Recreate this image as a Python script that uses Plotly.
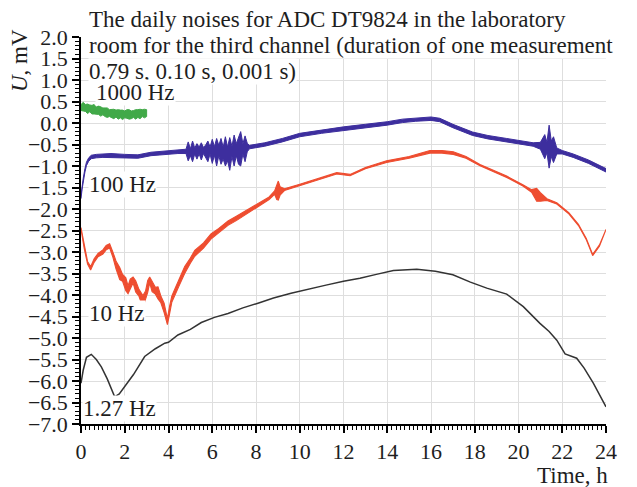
import plotly.graph_objects as go

# ---------------- data ----------------
hours_ticks = [0, 2, 4, 6, 8, 10, 12, 14, 16, 18, 20, 22, 24]

# 1000 Hz (green): time, centre value, half-width of noise band (mV)
green_x = [0, 0.1, 0.2, 0.3, 0.4, 0.5, 0.6, 0.7, 0.8, 0.9,
           1.0, 1.1, 1.2, 1.3, 1.4, 1.5, 1.6, 1.7, 1.8, 1.9,
           2.0, 2.1, 2.2, 2.3, 2.4, 2.5, 2.6, 2.7, 2.8, 2.9, 3.0]
green_c = [0.36, 0.38, 0.35, 0.33, 0.34, 0.31, 0.32, 0.29, 0.30, 0.27,
           0.27, 0.25, 0.24, 0.23, 0.22, 0.21, 0.22, 0.20, 0.21, 0.19,
           0.20, 0.21, 0.20, 0.19, 0.21, 0.20, 0.22, 0.21, 0.23, 0.22, 0.23]
green_a = [0.07, 0.10, 0.08, 0.11, 0.08, 0.10, 0.11, 0.08, 0.10, 0.11,
           0.08, 0.10, 0.11, 0.08, 0.10, 0.11, 0.08, 0.11, 0.09, 0.11,
           0.08, 0.10, 0.11, 0.09, 0.08, 0.11, 0.09, 0.11, 0.08, 0.10, 0.08]

# 100 Hz (blue)
blue_x = [0, 0.05, 0.1, 0.18, 0.25, 0.35, 0.47, 0.7, 1.0, 1.37,
          2.0, 2.6, 3.2, 3.8, 4.43, 4.8, 4.9, 5.0, 5.1, 5.2,
          5.3, 5.4, 5.5, 5.6, 5.7, 5.8, 5.9, 6.0, 6.1, 6.2,
          6.3, 6.4, 6.5, 6.6, 6.7, 6.8, 6.9, 7.0, 7.1, 7.2,
          7.3, 7.4, 7.5, 7.6, 7.7, 8.4, 9.2, 10.0, 11.0, 12.0,
          13.0, 14.0, 14.7, 15.3, 16.0, 16.4, 17.0, 17.9, 18.6, 19.46,
          20.1, 20.67, 21.0, 21.2, 21.3, 21.4, 21.5, 21.6, 21.75, 22.0,
          22.5, 23.2, 24.0]
blue_c = [-1.72, -1.5, -1.33, -1.1, -0.95, -0.85, -0.79, -0.77, -0.76, -0.75,
          -0.77, -0.78, -0.72, -0.70, -0.67, -0.66, -0.66, -0.68, -0.66, -0.65,
          -0.66, -0.64, -0.66, -0.64, -0.65, -0.66, -0.64, -0.66, -0.65, -0.68,
          -0.64, -0.66, -0.70, -0.66, -0.72, -0.72, -0.66, -0.64, -0.62, -0.64,
          -0.60, -0.60, -0.60, -0.57, -0.56, -0.50, -0.40, -0.28, -0.20, -0.13,
          -0.07, -0.01, 0.05, 0.08, 0.10, 0.07, -0.07, -0.25, -0.33, -0.40,
          -0.45, -0.50, -0.53, -0.55, -0.57, -0.55, -0.60, -0.62, -0.65, -0.68,
          -0.76, -0.90, -1.10]
blue_a = [0.04, 0.04, 0.04, 0.04, 0.04, 0.04, 0.04, 0.04, 0.04, 0.04,
          0.04, 0.04, 0.04, 0.04, 0.04, 0.05, 0.22, 0.08, 0.24, 0.07,
          0.18, 0.08, 0.20, 0.07, 0.14, 0.24, 0.08, 0.28, 0.10, 0.32,
          0.12, 0.30, 0.14, 0.34, 0.16, 0.38, 0.12, 0.36, 0.14, 0.32,
          0.40, 0.12, 0.30, 0.10, 0.04, 0.04, 0.04, 0.04, 0.04, 0.04,
          0.04, 0.04, 0.04, 0.04, 0.04, 0.04, 0.04, 0.04, 0.04, 0.04,
          0.04, 0.04, 0.08, 0.28, 0.12, 0.50, 0.18, 0.30, 0.07, 0.04,
          0.04, 0.04, 0.04]

# 10 Hz (red)
red_x = [0, 0.15, 0.3, 0.44, 0.6, 0.78, 1.0, 1.15, 1.31, 1.45,
         1.6, 1.77, 1.9, 2.05, 2.15, 2.25, 2.38, 2.5, 2.65, 2.83,
         2.95, 3.05, 3.14, 3.25, 3.4, 3.52, 3.65, 3.8, 3.95, 4.05,
         4.15, 4.28, 4.5, 4.74, 5.0, 5.2, 5.6, 5.94, 6.3, 6.72,
         7.1, 7.48, 7.9, 8.24, 8.6, 8.85, 8.95, 9.02, 9.1, 9.3,
         10.0, 10.8, 11.69, 12.3, 13.0, 13.97, 15.0, 15.95, 16.5, 17.02,
         17.6, 18.24, 18.8, 19.46, 20.2, 20.6, 20.83, 21.0, 21.3, 21.75,
         22.3, 22.74, 23.1, 23.39, 23.7, 24.0]
red_c = [-2.45, -2.9, -3.25, -3.38, -3.2, -3.07, -3.0, -2.9, -2.86, -3.05,
         -3.3, -3.5, -3.6, -3.75, -3.88, -3.75, -3.65, -3.8, -3.95, -4.15,
         -4.0, -3.8, -3.65, -3.8, -3.9, -3.95, -4.1, -4.3, -4.62, -4.35,
         -4.1, -3.95, -3.7, -3.42, -3.2, -3.03, -2.85, -2.64, -2.5, -2.33,
         -2.22, -2.1, -1.98, -1.87, -1.75, -1.62, -1.6, -1.57, -1.58, -1.55,
         -1.44, -1.32, -1.17, -1.21, -1.05, -0.9, -0.8, -0.67, -0.67, -0.70,
         -0.8, -0.98, -1.1, -1.25, -1.45, -1.58, -1.67, -1.72, -1.78, -1.87,
         -2.1, -2.37, -2.7, -3.07, -2.85, -2.49]
red_a = [0.02, 0.03, 0.03, 0.04, 0.04, 0.04, 0.05, 0.05, 0.05, 0.06,
         0.09, 0.14, 0.08, 0.15, 0.09, 0.12, 0.07, 0.13, 0.08, 0.14,
         0.09, 0.14, 0.07, 0.12, 0.08, 0.14, 0.08, 0.11, 0.07, 0.09,
         0.07, 0.08, 0.07, 0.08, 0.06, 0.07, 0.06, 0.06, 0.05, 0.05,
         0.05, 0.04, 0.04, 0.03, 0.03, 0.04, 0.18, 0.22, 0.10, 0.02,
         0.015, 0.015, 0.015, 0.015, 0.015, 0.02, 0.02, 0.03, 0.03, 0.03,
         0.02, 0.015, 0.015, 0.015, 0.015, 0.03, 0.15, 0.10, 0.02, 0.015,
         0.015, 0.015, 0.015, 0.015, 0.015, 0.015]

# 1.27 Hz (black)
black_x = [0, 0.1, 0.25, 0.47, 0.7, 0.93, 1.2, 1.54, 1.75, 2.0,
           2.4, 2.91, 3.4, 3.83, 4.0, 4.43, 5.0, 5.5, 6.1, 6.72,
           7.4, 8.09, 8.8, 9.6, 10.4, 11.2, 12.0, 12.75, 13.5, 14.28,
           15.35, 16.2, 17.0, 17.8, 18.55, 19.46, 20.22, 20.98, 21.4, 21.75,
           22.13, 22.4, 22.66, 23.0, 23.42, 24.0]
black_y = [-6.05, -5.75, -5.45, -5.38, -5.5, -5.67, -5.95, -6.37, -6.3, -6.13,
           -5.85, -5.43, -5.25, -5.12, -5.1, -4.93, -4.8, -4.64, -4.52, -4.43,
           -4.3, -4.19, -4.07, -3.96, -3.86, -3.77, -3.68, -3.61, -3.52, -3.43,
           -3.40, -3.45, -3.53, -3.7, -3.84, -3.98, -4.27, -4.66, -4.85, -5.05,
           -5.37, -5.42, -5.47, -5.7, -6.05, -6.6]

assert len(green_x) == len(green_c) == len(green_a)
assert len(blue_x) == len(blue_c) == len(blue_a)
assert len(red_x) == len(red_c) == len(red_a)
assert len(black_x) == len(black_y)

FONT = "Liberation Serif, Times New Roman, DejaVu Serif, serif"
TXT = "#1e1e1e"


def band(x, c, a, color, width):
    up = [ci + ai for ci, ai in zip(c, a)]
    lo = [ci - ai for ci, ai in zip(c, a)]
    return go.Scatter(x=list(x) + list(x[::-1]), y=up + lo[::-1],
                      mode="lines", fill="toself", fillcolor=color,
                      line=dict(color=color, width=width),
                      hoverinfo="skip", showlegend=False)


fig = go.Figure()
fig.add_trace(go.Scatter(x=black_x, y=black_y, mode="lines",
                         line=dict(color="#333333", width=1.5), showlegend=False))
fig.add_trace(band(red_x, red_c, red_a, "#ee4d30", 1.1))
fig.add_trace(band(blue_x, blue_c, blue_a, "#3d2e9e", 1.0))
fig.add_trace(band(green_x, green_c, green_a, "#41a948", 1.0))

axis_common = dict(
    showline=True, linecolor="black", linewidth=1.5, mirror=False,
    ticks="outside", ticklen=7, tickwidth=1.5, tickcolor="black",
    showgrid=True, gridcolor="#dedede", gridwidth=1, zeroline=False,
    tickfont=dict(family=FONT, size=22, color=TXT),
)

fig.update_xaxes(range=[0, 24], tickmode="array", tickvals=hours_ticks,
                 minor=dict(dtick=0.2, ticklen=4, ticks="outside",
                            tickcolor="black", tickwidth=1, showgrid=False),
                 **axis_common)
fig.update_yaxes(range=[-7, 2], dtick=0.5, tick0=0, tickformat=".1f",
                 minor=dict(dtick=0.1, ticklen=4, ticks="outside",
                            tickcolor="black", tickwidth=1, showgrid=False),
                 **axis_common)

ann_font = dict(family=FONT, size=23, color=TXT)
lab_font = dict(family=FONT, size=23, color=TXT)
# title lines, placed in plot-area (paper) fractions
title_lines = [
    ("The daily noises for ADC DT9824 in the laboratory", 1.044),
    ("room for the third channel (duration of one measurement", 0.977),
    ("0.79 s, 0.10 s, 0.001 s)", 0.912),
]
for txt, yy in title_lines:
    fig.add_annotation(x=0.0133, y=yy, xref="paper", yref="paper", text=txt,
                       showarrow=False, xanchor="left", yanchor="middle",
                       font=ann_font, bgcolor="white", borderpad=0)

labels = [("1000 Hz", 0.64, 0.70), ("100 Hz", 0.32, -1.44),
          ("10 Hz", 0.32, -4.44), ("1.27 Hz", 0.05, -6.63)]
for txt, xx, yy in labels:
    fig.add_annotation(x=xx, y=yy, xref="x", yref="y", text=txt,
                       showarrow=False, xanchor="left", yanchor="middle",
                       font=lab_font, bgcolor="white", borderpad=0)

fig.add_annotation(x=1.0076, y=-0.134, xref="paper", yref="paper", text="Time, h",
                   showarrow=False, xanchor="right", yanchor="middle",
                   font=lab_font)
fig.add_annotation(x=-0.116, y=0.938, xref="paper", yref="paper",
                   text="<i>U</i>, mV", textangle=-90, showarrow=False,
                   xanchor="center", yanchor="middle", font=lab_font)

# page body has an 8 px margin, so the figure is sized/offset to compensate
fig.update_layout(width=629, height=479,
                  margin=dict(l=73, r=31, t=29, b=63),
                  plot_bgcolor="white", paper_bgcolor="white",
                  showlegend=False)

fig.write_html("out.html")
